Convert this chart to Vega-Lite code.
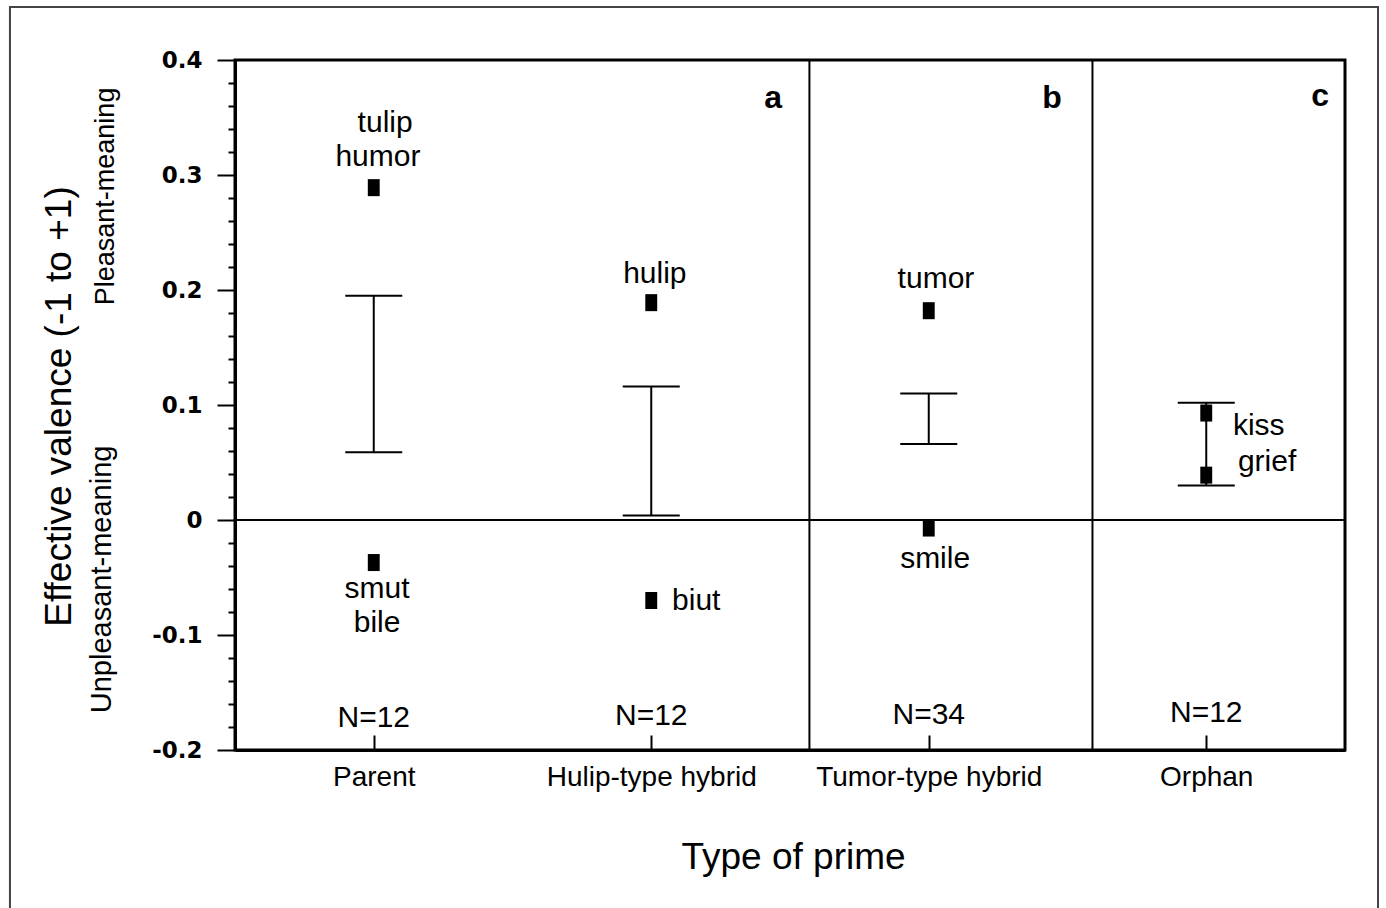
{
  "$schema": "https://vega.github.io/schema/vega-lite/v6.json",
  "width": 1110,
  "height": 690,
  "autosize": {"type": "none"},
  "padding": {"left": 235, "top": 60, "right": 41, "bottom": 158},
  "background": "white",
  "config": {
    "view": {"stroke": "black", "strokeWidth": 3},
    "font": "Liberation Sans",
    "text": {"font": "Liberation Sans", "color": "black"}
  },
  "datasets": {
    "points": [
      {"x": 0.5, "y": 0.289}, {"x": 0.5, "y": -0.037},
      {"x": 1.5, "y": 0.189}, {"x": 1.5, "y": -0.07},
      {"x": 2.5, "y": 0.182}, {"x": 2.5, "y": -0.007},
      {"x": 3.5, "y": 0.093}, {"x": 3.5, "y": 0.039}
    ],
    "bars": [
      {"x": 0.5, "y": 0.059, "y2": 0.195},
      {"x": 1.5, "y": 0.004, "y2": 0.116},
      {"x": 2.5, "y": 0.066, "y2": 0.110},
      {"x": 3.5, "y": 0.030, "y2": 0.102}
    ],
    "caps": [
      {"x": 0.5, "y": 0.059}, {"x": 0.5, "y": 0.195},
      {"x": 1.5, "y": 0.004}, {"x": 1.5, "y": 0.116},
      {"x": 2.5, "y": 0.066}, {"x": 2.5, "y": 0.110},
      {"x": 3.5, "y": 0.030}, {"x": 3.5, "y": 0.102}
    ],
    "dividers": [{"x": 2.07, "y": 0.4, "y2": -0.2}, {"x": 3.09, "y": 0.4, "y2": -0.2}],
    "zero": [{"x": 0, "x2": 4, "y": 0}],
    "frame": [{"x": -0.811, "x2": 4.119, "y": 0.446, "y2": -0.36}],
    "words_c": [
      {"x": 0.541, "y": 0.337, "t": "tulip"},
      {"x": 0.515, "y": 0.308, "t": "humor"},
      {"x": 1.513, "y": 0.206, "t": "hulip"},
      {"x": 2.526, "y": 0.202, "t": "tumor"},
      {"x": 0.512, "y": -0.068, "t": "smut"},
      {"x": 0.512, "y": -0.097, "t": "bile"},
      {"x": 2.523, "y": -0.042, "t": "smile"}
    ],
    "words_l": [
      {"x": 1.575, "y": -0.078, "t": "biut"},
      {"x": 3.596, "y": 0.074, "t": "kiss"},
      {"x": 3.614, "y": 0.043, "t": "grief"}
    ],
    "n": [
      {"x": 0.5, "y": -0.18, "t": "N=12"},
      {"x": 1.5, "y": -0.178, "t": "N=12"},
      {"x": 2.5, "y": -0.177, "t": "N=34"},
      {"x": 3.5, "y": -0.176, "t": "N=12"}
    ],
    "letters": [
      {"x": 1.939, "y": 0.358, "t": "a"},
      {"x": 2.944, "y": 0.358, "t": "b"},
      {"x": 3.91, "y": 0.36, "t": "c"}
    ],
    "side_up": [{"x": -0.436, "y": 0.376, "t": "Pleasant-meaning"}],
    "side_down": [{"x": -0.447, "y": -0.168, "t": "Unpleasant-meaning"}]
  },
  "encoding": {
    "x": {
      "field": "x", "type": "quantitative",
      "scale": {"domain": [0, 4], "nice": false, "zero": false},
      "axis": {
        "title": "Type of prime",
        "values": [0.5, 1.5, 2.5, 3.5],
        "labelExpr": "datum.value < 1 ? 'Parent' : datum.value < 2 ? 'Hulip-type hybrid' : datum.value < 3 ? 'Tumor-type hybrid' : 'Orphan'",
        "grid": false,
        "tickSize": -15, "tickWidth": 2, "tickColor": "black",
        "domainColor": "black", "domainWidth": 3,
        "labelFont": "Liberation Sans", "labelFontSize": 28, "labelColor": "black",
        "labelPadding": 28, "labelOverlap": false, "labelFlush": false, "labelLimit": 500,
        "titleFont": "Liberation Sans", "titleFontSize": 37, "titleFontWeight": "normal", "titleColor": "black",
        "titleX": 558, "titleY": 118, "titleBaseline": "alphabetic", "titleAlign": "center"
      }
    },
    "y": {
      "field": "y", "type": "quantitative",
      "scale": {"domain": [-0.2, 0.4], "nice": false, "zero": false},
      "axis": {
        "title": "Effective valence (-1 to +1)",
        "values": [-0.2, -0.18, -0.16, -0.14, -0.12, -0.1, -0.08, -0.06, -0.04, -0.02, 0, 0.02, 0.04, 0.06, 0.08, 0.1, 0.12, 0.14, 0.16, 0.18, 0.2, 0.22, 0.24, 0.26, 0.28, 0.3, 0.32, 0.34, 0.36, 0.38, 0.4],
        "tickSize": {"condition": {"test": "abs(datum.value*10 - round(datum.value*10)) < 0.001", "value": 18}, "value": 7},
        "tickWidth": 2, "tickColor": "black",
        "domainColor": "black", "domainWidth": 3,
        "grid": false,
        "labelExpr": "abs(datum.value*10 - round(datum.value*10)) < 0.001 ? (datum.value == 0 ? '0' : (datum.value < 0 ? '-' : '') + format(abs(datum.value), '.1f')) : ''",
        "labelFont": "DejaVu Sans", "labelFontSize": 23, "labelFontWeight": "bold", "labelColor": "black",
        "labelPadding": 15, "labelOverlap": false, "labelFlush": false, "labelBaseline": "middle", "labelLimit": 500,
        "titleFont": "Liberation Sans", "titleFontSize": 37, "titleFontWeight": "normal", "titleColor": "black",
        "titleX": -165, "titleY": 346, "titleAngle": 270, "titleAlign": "center", "titleBaseline": "alphabetic"
      }
    }
  },
  "layer": [
    {
      "data": {"name": "frame"},
      "mark": {"type": "rect", "fill": null, "stroke": "#444444", "strokeWidth": 2},
      "encoding": {"x2": {"field": "x2"}, "y2": {"field": "y2"}}
    },
    {
      "data": {"name": "bars"},
      "mark": {"type": "rule", "color": "black", "strokeWidth": 2},
      "encoding": {"y2": {"field": "y2"}}
    },
    {
      "data": {"name": "caps"},
      "mark": {"type": "tick", "orient": "horizontal", "size": 57, "thickness": 2, "color": "black", "opacity": 1},
      "encoding": {}
    },
    {
      "data": {"name": "dividers"},
      "mark": {"type": "rule", "color": "black", "strokeWidth": 2},
      "encoding": {"y2": {"field": "y2"}}
    },
    {
      "data": {"name": "zero"},
      "mark": {"type": "rule", "color": "black", "strokeWidth": 2},
      "encoding": {"x2": {"field": "x2"}}
    },
    {
      "data": {"name": "points"},
      "mark": {"type": "point", "shape": "M-0.7,-1L0.7,-1L0.7,1L-0.7,1Z", "filled": true, "color": "black", "opacity": 1, "size": 289},
      "encoding": {}
    },
    {
      "data": {"name": "words_c"},
      "mark": {"type": "text", "fontSize": 30, "align": "center", "baseline": "alphabetic"},
      "encoding": {"text": {"field": "t"}}
    },
    {
      "data": {"name": "words_l"},
      "mark": {"type": "text", "fontSize": 30, "align": "left", "baseline": "alphabetic"},
      "encoding": {"text": {"field": "t"}}
    },
    {
      "data": {"name": "n"},
      "mark": {"type": "text", "fontSize": 30, "align": "center", "baseline": "alphabetic"},
      "encoding": {"text": {"field": "t"}}
    },
    {
      "data": {"name": "letters"},
      "mark": {"type": "text", "fontSize": 32, "fontWeight": "bold", "align": "center", "baseline": "alphabetic"},
      "encoding": {"text": {"field": "t"}}
    },
    {
      "data": {"name": "side_up"},
      "mark": {"type": "text", "fontSize": 27, "angle": 270, "align": "right", "baseline": "alphabetic"},
      "encoding": {"text": {"field": "t"}}
    },
    {
      "data": {"name": "side_down"},
      "mark": {"type": "text", "fontSize": 29, "angle": 270, "align": "left", "baseline": "alphabetic"},
      "encoding": {"text": {"field": "t"}}
    }
  ]
}
